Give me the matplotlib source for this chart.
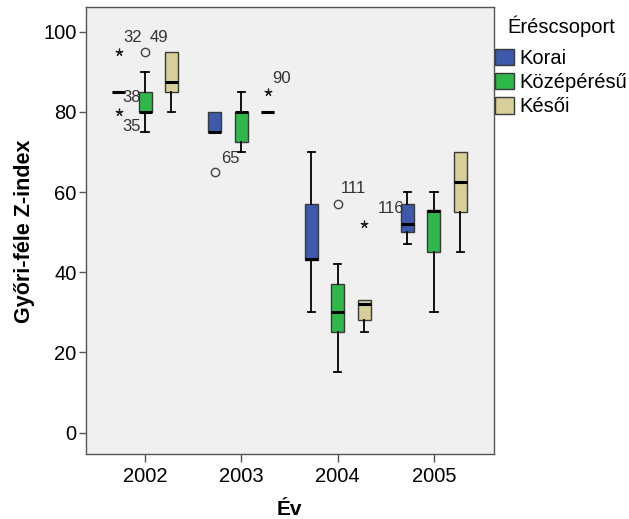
import matplotlib
matplotlib.use("Agg")
import matplotlib.pyplot as plt
from matplotlib.patches import Patch

plt.rcParams['font.family'] = ['Liberation Sans', 'DejaVu Sans']

years = ['2002', '2003', '2004', '2005']
groups = ['Korai', 'Középérésű', 'Késői']
colors = ['#3D59AB', '#2EB84A', '#D6CF99']

# box statistics per group, one value per year
q1 = {'Korai': [85, 75, 43, 50], 'Középérésű': [80, 72.5, 25, 45], 'Késői': [85, 80, 28, 55]}
med = {'Korai': [85, 75, 43.3, 52], 'Középérésű': [80, 80, 30, 55.2], 'Késői': [87.5, 80, 32, 62.5]}
q3 = {'Korai': [85, 80, 57, 57], 'Középérésű': [85, 80, 37, 55.5], 'Késői': [95, 80, 33, 70]}
whislo = {'Korai': [85, 75, 30, 47], 'Középérésű': [75, 70, 15, 30], 'Késői': [80, 80, 25, 45]}
whishi = {'Korai': [85, 80, 70, 60], 'Középérésű': [90, 85, 42, 60], 'Késői': [95, 80, 33, 70]}

# outliers: (year index, group, value, label)
star_outliers = [(0, 'Korai', 95, '32'), (0, 'Korai', 80, '35'),
                 (1, 'Késői', 85, '90'), (2, 'Késői', 52, '')]
circle_outliers = [(0, 'Középérésű', 95, '49'), (1, 'Korai', 65, '65'),
                   (2, 'Középérésű', 57, '111')]
hidden_labels = [(0, 'Korai', 85, '38'), (3, 'Korai', 57, '116')]

# label offsets (pixels) by label
label_offsets = {'32': (5, 14), '49': (5, 14), '35': (4, -15), '38': (4, -6),
                 '65': (6, 14), '90': (4, 13), '111': (3, 16), '116': (-30, -4)}

fig = plt.figure(figsize=(6.29, 5.19), dpi=100)
ax = fig.add_axes([0.1362, 0.1247, 0.6487, 0.8613])
ax.set_facecolor('#F0F0F0')

offsets = {'Korai': -0.275, 'Középérésű': 0.0, 'Késői': 0.275}
width = 0.135

for g, c in zip(groups, colors):
    stats = []
    for i in range(len(years)):
        stats.append(dict(med=med[g][i], q1=q1[g][i], q3=q3[g][i],
                          whislo=whislo[g][i], whishi=whishi[g][i], fliers=[]))
    pos = [i + offsets[g] for i in range(len(years))]
    art = ax.bxp(stats, positions=pos, widths=width, patch_artist=True, showfliers=False,
                 capwidths=0.075,
                 boxprops=dict(facecolor=c, edgecolor='#3a3a3a', linewidth=1.0),
                 medianprops=dict(color='black', linewidth=2.2, solid_capstyle='butt'),
                 whiskerprops=dict(color='black', linewidth=1.3),
                 capprops=dict(color='black', linewidth=1.3),
                 manage_ticks=False)
    for i, s in enumerate(stats):
        if s['whislo'] >= s['q1']:
            art['caps'][2 * i].set_visible(False)
            art['whiskers'][2 * i].set_visible(False)
        if s['whishi'] <= s['q3']:
            art['caps'][2 * i + 1].set_visible(False)
            art['whiskers'][2 * i + 1].set_visible(False)

def xpos(i, g):
    return i + offsets[g]

for i, g, v, lab in star_outliers:
    ax.plot(xpos(i, g), v, marker=(5, 2, 0), color='#222222', markersize=5.5,
            markeredgewidth=0.9, linestyle='none')
for i, g, v, lab in circle_outliers:
    ax.plot(xpos(i, g), v, marker='o', markerfacecolor='none', markeredgecolor='#444444',
            markersize=6, markeredgewidth=1.0, linestyle='none')

for i, g, v, lab in star_outliers + circle_outliers + hidden_labels:
    if lab:
        ax.annotate(lab, xy=(xpos(i, g), v), xytext=label_offsets[lab],
                    textcoords='offset pixels', ha='left', va='center',
                    fontsize=12, color='#333333')

ax.set_xlim(-0.616, 3.62)
ax.set_ylim(-5.4, 106.1)
ax.set_xticks(range(len(years)))
ax.set_xticklabels(years)
ax.set_yticks([0, 20, 40, 60, 80, 100])
ax.tick_params(axis='both', labelsize=14.5, color='#555555', width=1.0,
               labelcolor='black')
ax.tick_params(axis='y', length=5, pad=1.5)
ax.tick_params(axis='x', length=6, pad=3)
for s in ax.spines.values():
    s.set_color('#555555')
    s.set_linewidth(1.0)

ax.set_xlabel('Év', fontsize=15, fontweight='bold', labelpad=10)
ax.set_ylabel('Győri-féle Z-index', fontsize=15.5, fontweight='bold', labelpad=6)

fig.text(561.7 / 629, 1 - 26.7 / 519, 'Éréscsoport', ha='center', va='center',
         fontsize=14.5)
handles = [Patch(facecolor=c, edgecolor='#3a3a3a', linewidth=1.0) for c in colors]
leg = fig.legend(handles, groups, loc='upper left',
                 bbox_to_anchor=(495 / 629, 1 - 49 / 519), frameon=False,
                 fontsize=14.5, handlelength=0.93, handleheight=0.85,
                 handletextpad=0.3, labelspacing=0.26, borderaxespad=0, borderpad=0)

fig.savefig('out.png', dpi=100, facecolor='white')
